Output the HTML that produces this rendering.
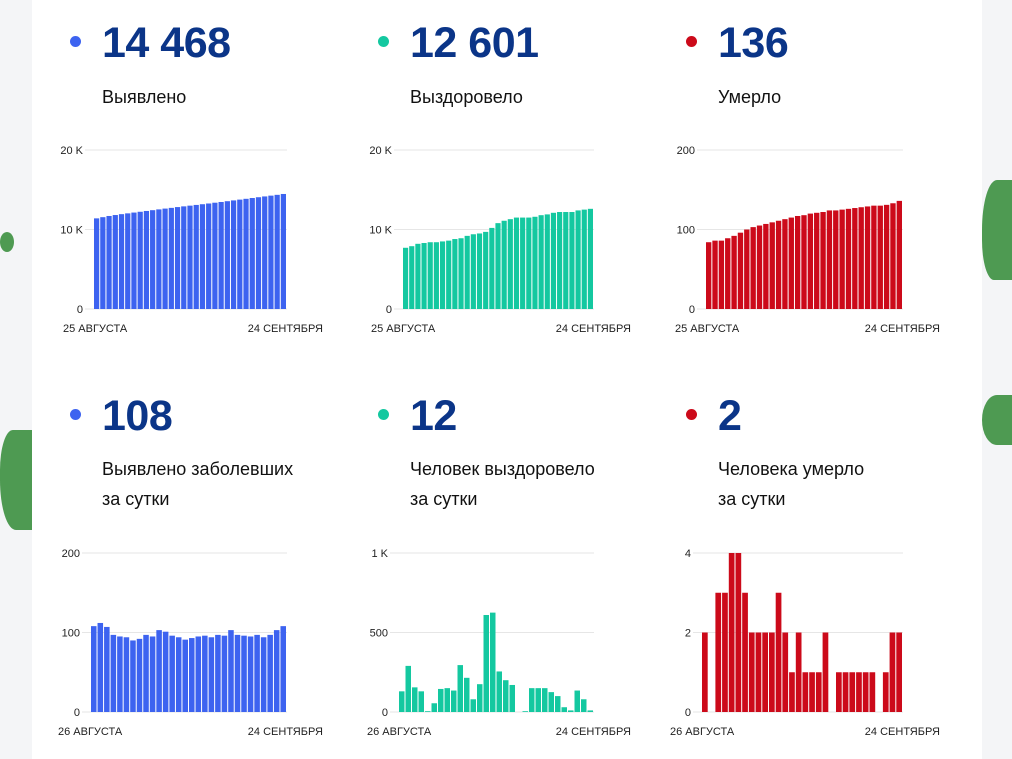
<!DOCTYPE html>
<html><head><meta charset="utf-8">
<style>
body{margin:0;width:1012px;height:759px;overflow:hidden;background:#f4f5f7;font-family:"Liberation Sans",Roboto,sans-serif;position:relative}
#card{position:absolute;left:32px;top:0;width:950px;height:759px;background:#fff}
.dot{position:absolute;width:11px;height:11px;border-radius:50%}
.num{position:absolute;font-size:43px;font-weight:bold;color:#0b3588;line-height:1;letter-spacing:-0.5px}
.lbl{position:absolute;font-size:18px;color:#111;line-height:30px;font-weight:500}
svg{position:absolute;left:0;top:0}
</style></head><body>
<div style="position:absolute;left:0;top:430px;width:32px;height:100px;background:#4e9a52;border-radius:40% 0 0 50%"></div>
<div style="position:absolute;left:0;top:232px;width:14px;height:20px;background:#4e9a52;border-radius:50%"></div>
<div style="position:absolute;left:982px;top:180px;width:30px;height:100px;background:#4e9a52;border-radius:50% 0 0 40%"></div>
<div style="position:absolute;left:982px;top:395px;width:30px;height:50px;background:#4e9a52;border-radius:50% 0 0 50%"></div>
<div id="card"></div>

<div class="dot" style="left:70px;top:36px;background:#3d63f0"></div>
<div class="num" style="left:102px;top:22px">14 468</div>
<div class="lbl" style="left:102px;top:82px">Выявлено</div>
<div class="dot" style="left:378px;top:36px;background:#14c8a0"></div>
<div class="num" style="left:410px;top:22px">12 601</div>
<div class="lbl" style="left:410px;top:82px">Выздоровело</div>
<div class="dot" style="left:686px;top:36px;background:#cc0a1a"></div>
<div class="num" style="left:718px;top:22px">136</div>
<div class="lbl" style="left:718px;top:82px">Умерло</div>

<div class="dot" style="left:70px;top:409px;background:#3d63f0"></div>
<div class="num" style="left:102px;top:395px">108</div>
<div class="lbl" style="left:102px;top:454px">Выявлено заболевших<br>за сутки</div>
<div class="dot" style="left:378px;top:409px;background:#14c8a0"></div>
<div class="num" style="left:410px;top:395px">12</div>
<div class="lbl" style="left:410px;top:454px">Человек выздоровело<br>за сутки</div>
<div class="dot" style="left:686px;top:409px;background:#cc0a1a"></div>
<div class="num" style="left:718px;top:395px">2</div>
<div class="lbl" style="left:718px;top:454px">Человека умерло<br>за сутки</div>

<svg id="s" width="1012" height="759"></svg>
<script>
const confirmedTotal=[11400,11550,11700,11820,11930,12030,12130,12230,12330,12430,12530,12630,12720,12820,12910,13000,13090,13180,13270,13370,13460,13560,13660,13760,13860,13960,14060,14160,14260,14360,14468];
const recoveredTotal=[7700,7900,8200,8300,8400,8400,8500,8600,8800,8900,9200,9400,9500,9700,10200,10800,11100,11300,11500,11500,11500,11600,11800,11900,12100,12200,12200,12200,12400,12500,12601];
const deathsTotal=[84,86,86,89,92,96,100,103,105,107,109,111,113,115,117,118,120,121,122,124,124,125,126,127,128,129,130,130,131,133,136];
const confirmedDaily=[108,112,107,97,95,94,90,92,97,95,103,101,96,94,91,93,95,96,94,97,96,103,97,96,95,97,94,97,103,108];
const recoveredDaily=[130,290,155,130,5,55,145,150,135,295,215,80,175,610,625,255,200,170,0,5,150,150,150,125,100,30,10,135,80,10];
const deathsDaily=[2,0,3,3,4,4,3,2,2,2,2,3,2,1,2,1,1,1,2,0,1,1,1,1,1,1,0,1,2,2];
const ticks20k=["0","10 K","20 K"], ticks200=["0","100","200"], ticks1k=["0","500","1 K"], ticks4=["0","2","4"];
const charts=[
 {n:"confirmed-total",d:confirmedTotal,max:20000,t:ticks20k,x0:94,x1:287,b:309,top:150,c:"#3d63f0",s:"25 АВГУСТА",ls:63,le:323},
 {n:"recovered-total",d:recoveredTotal,max:20000,t:ticks20k,x0:403,x1:594,b:309,top:150,c:"#14c8a0",s:"25 АВГУСТА",ls:371,le:631},
 {n:"deaths-total",d:deathsTotal,max:200,t:ticks200,x0:706,x1:903,b:309,top:150,c:"#cc0a1a",s:"25 АВГУСТА",ls:675,le:940},
 {n:"confirmed-daily",d:confirmedDaily,max:200,t:ticks200,x0:91,x1:287,b:712,top:553,c:"#3d63f0",s:"26 АВГУСТА",ls:58,le:323},
 {n:"recovered-daily",d:recoveredDaily,max:1000,t:ticks1k,x0:399,x1:594,b:712,top:553,c:"#14c8a0",s:"26 АВГУСТА",ls:367,le:631},
 {n:"deaths-daily",d:deathsDaily,max:4,t:ticks4,x0:702,x1:903,b:712,top:553,c:"#cc0a1a",s:"26 АВГУСТА",ls:670,le:940}
];
const svg=document.getElementById('s'),NS="http://www.w3.org/2000/svg";
function mk(tag,a,p){const e=document.createElementNS(NS,tag);for(const k in a)e.setAttribute(k,a[k]);(p||svg).appendChild(e);return e;}
charts.forEach(ch=>{
 const g=mk('g',{});
 
 
 const y=v=>ch.b-(v/ch.max)*(ch.b-ch.top);
 ch.t.forEach((lab,i)=>{
  const v=ch.max*i/(ch.t.length-1),yy=y(v);
  const ln=mk('line',{x1:ch.x0-9,x2:ch.x1,y1:yy,y2:yy,stroke:'#e6e6e6','stroke-width':1},g);
  
  
  const t=mk('text',{x:ch.x0-11,y:yy+4,'text-anchor':'end','font-size':11,fill:'#222'},g);
  t.textContent=lab;
  
  
 });
 const w=(ch.x1-ch.x0)/ch.d.length;
 ch.d.forEach((v,i)=>{
  if(v<=0)return;
  const r=mk('rect',{x:ch.x0+i*w,y:y(v),width:w-1,height:ch.b-y(v),fill:ch.c},g);
  
  
 });
 const a=mk('text',{x:ch.ls,y:ch.b+23,'font-size':11,fill:'#222'},g);a.textContent=ch.s;
 
 
 const e=mk('text',{x:ch.le,y:ch.b+23,'font-size':11,fill:'#222','text-anchor':'end'},g);e.textContent="24 СЕНТЯБРЯ";
 
 
});
</script>
</body></html>
